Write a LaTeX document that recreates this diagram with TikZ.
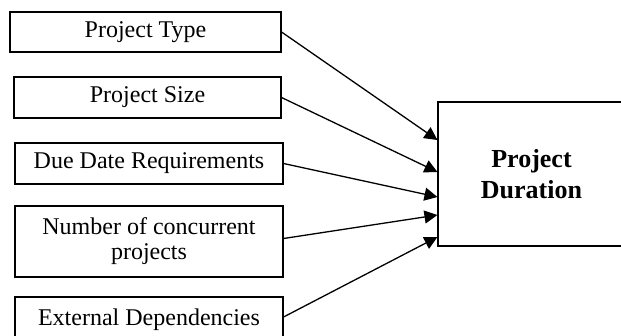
\documentclass[tikz,border=0pt]{standalone}
\usepackage{fontspec}
\setmainfont{Liberation Serif}
\usetikzlibrary{arrows.meta}
\tikzset{
  factor/.style={draw, line width=1.1pt, inner sep=0pt, align=center,
    font=\fontsize{24}{25}\selectfont},
  outcome/.style={draw, line width=1.1pt, inner sep=0pt, align=center,
    font=\fontsize{26}{31}\selectfont\bfseries},
  link/.style={line width=1.3pt, -{Triangle[length=13pt,width=13pt]}}
}
\begin{document}
\begin{tikzpicture}[x=1pt,y=-1pt]
\useasboundingbox (0,0) rectangle (621,335);
\clip (0,0) rectangle (621,335);
% influencing factors
\node[factor, minimum width=271pt, minimum height=40pt] (t1) at (145.5,32) {\raisebox{-2pt}{Project Type}};
\node[factor, minimum width=267pt, minimum height=41pt] (t2) at (147.5,97.5) {\raisebox{-2pt}{Project Size}};
\node[factor, minimum width=268pt, minimum height=41pt] (t3) at (149,163.5) {\raisebox{-2pt}{Due Date Requirements}};
\node[factor, minimum width=268pt, minimum height=71pt] (t4) at (149,241.5) {Number of concurrent\\projects};
\node[factor, minimum width=268pt, minimum height=46pt] (t5) at (149,320) {\raisebox{-2pt}{External Dependencies}};
% result
\node[outcome, minimum width=187pt, minimum height=144pt] (dur) at (531.5,174) {Project\\Duration};
% arrow entry points on the result box
\coordinate (in1) at ([yshift=34pt]dur.west);
\coordinate (in2) at ([yshift=2pt]dur.west);
\coordinate (in3) at ([yshift=-23pt]dur.west);
\coordinate (in4) at ([yshift=-41pt]dur.west);
\coordinate (in5) at ([yshift=-63pt]dur.west);
\draw[link] (t1.east) -- (in1);
\draw[link] (t2.east) -- (in2);
\draw[link] (t3.east) -- (in3);
\draw[link] ([yshift=3pt]t4.east) -- (in4);
\draw[link] ([yshift=3pt]t5.east) -- (in5);
\end{tikzpicture}
\end{document}
